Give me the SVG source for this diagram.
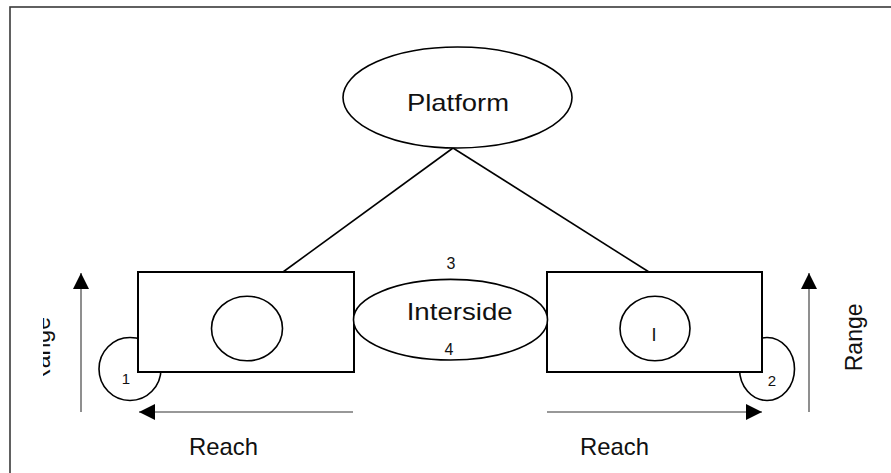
<svg xmlns="http://www.w3.org/2000/svg" width="891" height="473" viewBox="0 0 891 473">
<defs>
<style>
.frame{fill:none;stroke:#3a3a3a;stroke-width:1.6}
.box{fill:#fff;stroke:#000;stroke-width:2}
.shape{fill:#fff;stroke:#000;stroke-width:1.6}
.link{fill:none;stroke:#000;stroke-width:1.6}
.arrow{fill:none;stroke:#333;stroke-width:1.1;marker-end:url(#head)}
.lbl{font-family:"Liberation Sans",Arial,sans-serif;fill:#111;text-anchor:middle}
.big{font-size:24px}
.small{font-size:15px}
.mid{font-size:16px}
</style>
<marker id="head" viewBox="0 0 16 16" refX="16" refY="8" markerWidth="16" markerHeight="16" markerUnits="userSpaceOnUse" orient="auto">
<path d="M0,0 L16,8 L0,16 z" fill="#000"/>
</marker>
<clipPath id="leftRangeClip"><rect x="43" y="300" width="20" height="76"/></clipPath>
</defs>
<rect class="frame" x="10" y="7" width="900" height="500"/>
<g id="connectors">
<line class="link" x1="453" y1="148" x2="283" y2="272"/>
<line class="link" x1="453" y1="148" x2="649" y2="272"/>
<line class="arrow" x1="81" y1="412" x2="81" y2="273"/>
<line class="arrow" x1="353" y1="412" x2="139" y2="412"/>
<line class="arrow" x1="547" y1="412" x2="762" y2="412"/>
<line class="arrow" x1="809" y1="412" x2="809" y2="273"/>
</g>
<g id="node-1">
<ellipse class="shape" cx="130" cy="369" rx="31" ry="31.5"/>
<text class="lbl small" x="126" y="384">1</text>
</g>
<g id="node-2">
<ellipse class="shape" cx="767" cy="369" rx="27.5" ry="31.5"/>
<text class="lbl small" x="772" y="386">2</text>
</g>
<g id="node-left-box">
<rect class="box" x="138" y="272" width="216" height="100"/>
<ellipse class="shape" cx="247" cy="328.5" rx="35.5" ry="32.3"/>
</g>
<g id="node-right-box">
<rect class="box" x="547" y="272" width="215" height="100"/>
<ellipse class="shape" cx="655" cy="328.5" rx="35" ry="32.3"/>
<text class="lbl" x="654" y="341" font-size="18">I</text>
</g>
<g id="node-platform">
<ellipse class="shape" cx="457.5" cy="97.5" rx="114.5" ry="50.5"/>
<text class="lbl big" x="458" y="111" textLength="102" lengthAdjust="spacingAndGlyphs">Platform</text>
</g>
<g id="node-interside">
<ellipse class="shape" cx="450.5" cy="319.7" rx="97" ry="40.3"/>
<text class="lbl big" x="459.7" y="320" textLength="106" lengthAdjust="spacingAndGlyphs">Interside</text>
<text class="lbl mid" x="451" y="268.5">3</text>
<text class="lbl mid" x="449" y="355">4</text>
</g>
<g id="labels">
<text class="lbl big" x="223.5" y="455" textLength="69" lengthAdjust="spacingAndGlyphs">Reach</text>
<text class="lbl big" x="614.5" y="455" textLength="69" lengthAdjust="spacingAndGlyphs">Reach</text>
<text class="lbl big" transform="translate(862,337.3) rotate(-90)" x="0" y="0" textLength="68" lengthAdjust="spacingAndGlyphs">Range</text>
<g clip-path="url(#leftRangeClip)">
<text class="lbl big" transform="translate(50,351) rotate(-90)" x="0" y="0" textLength="68" lengthAdjust="spacingAndGlyphs">Range</text>
</g>
</g>
</svg>
